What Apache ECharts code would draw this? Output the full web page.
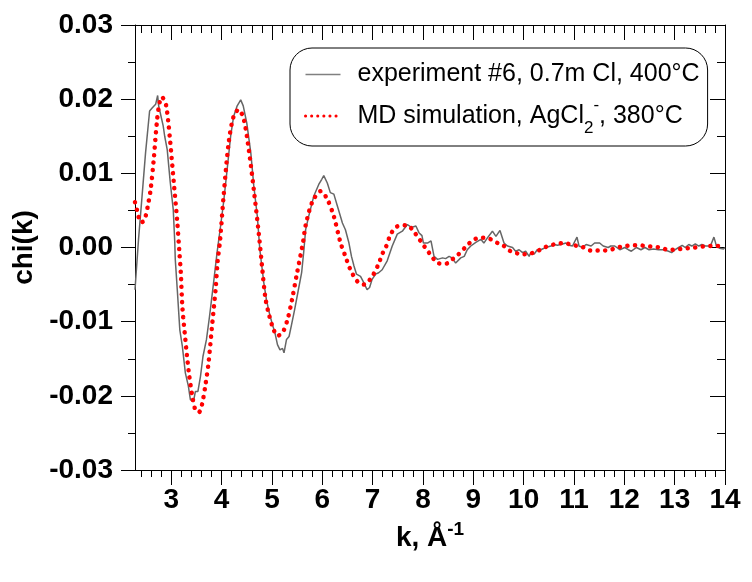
<!DOCTYPE html>
<html>
<head>
<meta charset="utf-8">
<script src="https://cdn.jsdelivr.net/npm/echarts@6/dist/echarts.min.js"></script>
<style>
html,body{margin:0;padding:0;background:#fff;}
#chart{width:752px;height:582px;}
</style>
</head>
<body>
<div id="chart"></div>
<script>
// ---- data ----
const kExp = [2.28,2.35,2.42,2.49,2.57,2.62,2.65,2.69,2.73,2.75,2.78,2.84,2.87,2.92,2.98,3.04,3.07,3.08,3.12,3.17,3.22,3.28,3.34,3.38,3.44,3.48,3.53,3.58,3.63,3.70,3.76,3.84,3.91,3.98,4.04,4.11,4.18,4.24,4.31,4.38,4.43,4.50,4.58,4.64,4.71,4.76,4.84,4.89,4.94,5.01,5.06,5.11,5.16,5.21,5.24,5.29,5.34,5.39,5.45,5.52,5.59,5.63,5.67,5.73,5.83,5.93,5.99,6.03,6.10,6.16,6.23,6.30,6.40,6.46,6.53,6.58,6.63,6.68,6.71,6.76,6.83,6.89,6.94,6.99,7.06,7.12,7.19,7.29,7.39,7.49,7.59,7.69,7.77,7.86,7.92,7.98,8.01,8.09,8.16,8.22,8.29,8.39,8.45,8.52,8.58,8.65,8.75,8.82,8.88,8.95,9.05,9.15,9.21,9.28,9.38,9.45,9.53,9.61,9.68,9.78,9.84,9.91,9.98,10.04,10.11,10.14,10.21,10.27,10.34,10.44,10.54,10.61,10.67,10.74,10.84,10.90,10.97,11.06,11.10,11.17,11.24,11.34,11.41,11.51,11.58,11.68,11.73,11.81,11.91,12.01,12.08,12.14,12.24,12.33,12.41,12.49,12.58,12.68,12.78,12.88,12.94,13.01,13.08,13.15,13.21,13.28,13.34,13.41,13.48,13.54,13.61,13.71,13.78,13.83,13.89,13.97,14.00];
const chiExp = [-0.0057,0.0011,0.0069,0.0128,0.0184,0.0188,0.0189,0.0193,0.0205,0.0191,0.0182,0.0164,0.0150,0.0132,0.0088,0.0051,0.0007,-0.0016,-0.0057,-0.0111,-0.0133,-0.0169,-0.0187,-0.0205,-0.0208,-0.0194,-0.0194,-0.0174,-0.0147,-0.0124,-0.0093,-0.0048,-0.0007,0.0029,0.0061,0.0105,0.0150,0.0177,0.0191,0.0199,0.0191,0.0168,0.0128,0.0083,0.0042,-0.0003,-0.0048,-0.0070,-0.0086,-0.0104,-0.0115,-0.0131,-0.0138,-0.0136,-0.0142,-0.0124,-0.0120,-0.0104,-0.0084,-0.0059,-0.0034,-0.0007,0.0024,0.0042,0.0069,0.0085,0.0092,0.0097,0.0087,0.0074,0.0072,0.0056,0.0033,0.0024,0.0006,-0.0012,-0.0025,-0.0036,-0.0034,-0.0039,-0.0048,-0.0057,-0.0054,-0.0043,-0.0036,-0.0034,-0.0030,-0.0018,0.0002,0.0018,0.0022,0.0031,0.0027,0.0029,0.0020,0.0016,0.0006,0.0006,0.0009,-0.0012,-0.0016,-0.0014,-0.0015,-0.0012,-0.0014,-0.0021,-0.0014,-0.0012,-0.0003,0.0002,0.0007,0.0011,0.0006,0.0013,0.0022,0.0015,0.0023,0.0006,0.0002,0.0000,-0.0005,-0.0003,-0.0007,-0.0005,-0.0012,-0.0007,-0.0009,-0.0003,-0.0003,0.0000,0.0002,0.0004,0.0003,0.0004,0.0006,0.0003,0.0002,0.0014,0.0002,0.0000,0.0004,0.0002,0.0006,0.0006,0.0002,0.0000,0.0002,0.0002,-0.0003,0.0000,-0.0003,-0.0005,0.0000,-0.0003,0.0000,-0.0003,-0.0002,-0.0003,-0.0003,-0.0005,-0.0007,-0.0003,0.0000,0.0003,0.0000,0.0004,0.0002,0.0005,0.0002,0.0004,0.0002,0.0002,0.0014,0.0002,-0.0001,-0.0002,0.0000];

const kMd = [2.28,2.33,2.39,2.44,2.49,2.54,2.59,2.65,2.72,2.77,2.81,2.86,2.90,2.94,2.98,3.05,3.12,3.16,3.19,3.22,3.28,3.35,3.42,3.48,3.55,3.61,3.68,3.74,3.81,3.88,3.92,3.97,4.04,4.14,4.24,4.34,4.44,4.54,4.64,4.74,4.81,4.87,4.94,5.03,5.11,5.21,5.31,5.40,5.50,5.62,5.67,5.80,5.97,6.10,6.23,6.36,6.46,6.56,6.70,6.83,6.99,7.12,7.19,7.26,7.36,7.46,7.56,7.69,7.79,7.95,8.12,8.30,8.45,8.58,8.68,8.88,8.98,9.11,9.25,9.38,9.51,9.61,9.74,9.88,10.01,10.14,10.27,10.41,10.54,10.67,10.80,10.94,11.07,11.20,11.33,11.47,11.60,11.73,11.86,12.03,12.16,12.29,12.42,12.56,12.72,12.86,12.99,13.12,13.26,13.39,13.52,13.65,13.78,13.97,14.00];
const chiMd = [0.0061,0.0048,0.0034,0.0035,0.0042,0.0058,0.0078,0.0117,0.0173,0.0196,0.0203,0.0199,0.0191,0.0170,0.0142,0.0088,0.0034,-0.0005,-0.0034,-0.0079,-0.0124,-0.0169,-0.0201,-0.0219,-0.0222,-0.0212,-0.0185,-0.0156,-0.0106,-0.0057,-0.0020,0.0010,0.0069,0.0141,0.0177,0.0186,0.0173,0.0132,0.0078,0.0018,-0.0030,-0.0068,-0.0090,-0.0110,-0.0119,-0.0115,-0.0097,-0.0070,-0.0034,0.0008,0.0030,0.0061,0.0076,0.0065,0.0042,0.0007,-0.0012,-0.0030,-0.0046,-0.0050,-0.0039,-0.0022,-0.0009,0.0000,0.0018,0.0027,0.0030,0.0030,0.0024,0.0009,-0.0007,-0.0021,-0.0022,-0.0016,-0.0011,0.0003,0.0009,0.0013,0.0013,0.0010,0.0005,0.0002,-0.0005,-0.0008,-0.0009,-0.0008,-0.0005,0.0000,0.0003,0.0005,0.0006,0.0004,0.0002,0.0000,-0.0004,-0.0004,-0.0004,-0.0003,0.0000,0.0002,0.0003,0.0003,0.0002,0.0001,0.0000,-0.0003,-0.0003,-0.0002,-0.0001,0.0000,0.0001,0.0002,0.0002,0.0002,0.0002];

const xMajorTicks = [3,4,5,6,7,8,9,10,11,12,13,14];
const xMinorTicks = [2.4,2.6,2.8,3.2,3.4,3.6,3.8,4.2,4.4,4.6,4.8,5.2,5.4,5.6,5.8,6.2,6.4,6.6,6.8,7.2,7.4,7.6,7.8,8.2,8.4,8.6,8.8,9.2,9.4,9.6,9.8,10.2,10.4,10.6,10.8,11.2,11.4,11.6,11.8,12.2,12.4,12.6,12.8,13.2,13.4,13.6,13.8];
const yMajorTicks = [-0.03,-0.02,-0.01,0,0.01,0.02,0.03];
const yMinorTicks = [-0.025,-0.015,-0.005,0.005,0.015,0.025];
const xMin = 2.28, xMax = 14;
const yMin = -0.03, yMax = 0.03;

const seriesNames = ['experiment #6, 0.7m Cl, 400°C', 'MD simulation, AgCl2-, 380°C'];

// ---- chart ----
const FONT = "'Liberation Sans', Arial, sans-serif";
const pairs = (xs, ys) => xs.map((x, i) => [x, ys[i]]);

function xAx(pos, ticks, len, inside, showLine, labels) {
  return {
    type: 'value', position: pos, min: xMin, max: xMax,
    splitLine: {show: false},
    axisLine: {show: showLine, onZero: false, lineStyle: {color: '#000', width: 1}},
    axisTick: {show: true, customValues: ticks, length: len, inside: inside, lineStyle: {color: '#000', width: 1}},
    axisLabel: labels ? {show: true, customValues: xMajorTicks, fontSize: 28, fontWeight: 'bold', fontFamily: FONT, color: '#000', margin: 16} : {show: false}
  };
}
function yAx(pos, ticks, len, inside, showLine, labels) {
  return {
    type: 'value', position: pos, min: yMin, max: yMax,
    splitLine: {show: false},
    axisLine: {show: showLine, onZero: false, lineStyle: {color: '#000', width: 1}},
    axisTick: {show: true, customValues: ticks, length: len, inside: inside, lineStyle: {color: '#000', width: 1}},
    axisLabel: labels ? {show: true, customValues: yMajorTicks, fontSize: 28, fontWeight: 'bold', fontFamily: FONT, color: '#000', margin: 22,
      formatter: v => v.toFixed(2)} : {show: false}
  };
}

const xAxes = [
  xAx('bottom', xMajorTicks, 15, false, true, true),
  xAx('bottom', xMinorTicks, 7, false, false, false),
  xAx('top', xMajorTicks, 15, true, true, false),
  xAx('top', xMinorTicks, 8, true, false, false)
];
xAxes[0].name = '{a|k, Å}{s|-1}';
xAxes[0].nameLocation = 'middle';
xAxes[0].nameGap = 50;
xAxes[0].nameTextStyle = {
  rich: {
    a: {fontSize: 28, fontWeight: 'bold', fontFamily: FONT, color: '#000', lineHeight: 32, verticalAlign: 'bottom'},
    s: {fontSize: 19, fontWeight: 'bold', fontFamily: FONT, color: '#000', lineHeight: 32, verticalAlign: 'top', padding: [0,0,12,0]}
  }
};
const yAxes = [
  yAx('left', yMajorTicks, 14, false, true, true),
  yAx('left', yMinorTicks, 7, false, false, false),
  yAx('right', yMajorTicks, 15, true, true, false),
  yAx('right', yMinorTicks, 8, true, false, false)
];
yAxes[0].name = 'chi(k)';
yAxes[0].nameLocation = 'middle';
yAxes[0].nameGap = 94;
yAxes[0].nameRotate = 90;
yAxes[0].nameTextStyle = {fontSize: 28, fontWeight: 'bold', fontFamily: FONT, color: '#000'};

const chart = echarts.init(document.getElementById('chart'), null, {renderer: 'canvas'});
chart.setOption({
  animation: false,
  backgroundColor: '#fff',
  grid: {left: 135, right: 27, top: 25, bottom: 112, containLabel: false, outerBoundsMode: 'none'},
  xAxis: xAxes,
  yAxis: yAxes,
  legend: {
    orient: 'vertical', left: 290, top: 48,
    padding: [14, 8, 9, 14],
    borderColor: '#000', borderWidth: 1, borderRadius: 22,
    itemWidth: 35, itemHeight: 14, itemGap: 10,
    itemStyle: {opacity: 0},
    data: [
      {name: seriesNames[0], lineStyle: {width: 1.5, color: '#808080'}},
      {name: seriesNames[1], lineStyle: {width: 3, type: [0.1, 6], cap: 'round', color: '#ff0000'}}
    ],
    textStyle: {
      fontSize: 25, fontFamily: FONT, color: '#000',
      rich: {
        g: {width: 12, fontSize: 25, fontFamily: FONT},
        a: {fontSize: 25, fontFamily: FONT, color: '#000', lineHeight: 30, verticalAlign: 'middle'},
        sub: {fontSize: 17, fontFamily: FONT, color: '#000', lineHeight: 30, verticalAlign: 'bottom', padding: [0,0,-6,0]},
        sup: {fontSize: 17, fontFamily: FONT, color: '#000', lineHeight: 30, verticalAlign: 'top', padding: [-4,0,0,0]}
      }
    },
    formatter: function (name) {
      if (name === seriesNames[1]) {
        return '{g| }{a|MD simulation, AgCl}{sub|2}{sup|-}{a|, 380°C}';
      }
      return '{g| }{a|' + name + '}';
    }
  },
  series: [
    {
      name: seriesNames[0], type: 'line', xAxisIndex: 0, yAxisIndex: 0,
      data: pairs(kExp, chiExp), symbol: 'none', showSymbol: false,
      lineStyle: {color: '#666666', width: 1.5}, itemStyle: {color: '#666666'}, z: 2
    },
    {
      name: seriesNames[1], type: 'line', xAxisIndex: 0, yAxisIndex: 0,
      data: pairs(kMd, chiMd), symbol: 'none', showSymbol: false, smooth: 0.3,
      lineStyle: {color: '#ff0000', width: 4.5, type: [0.1, 7.5], cap: 'round'}, itemStyle: {color: '#ff0000'}, z: 3
    }
  ]
});
</script>
</body>
</html>
